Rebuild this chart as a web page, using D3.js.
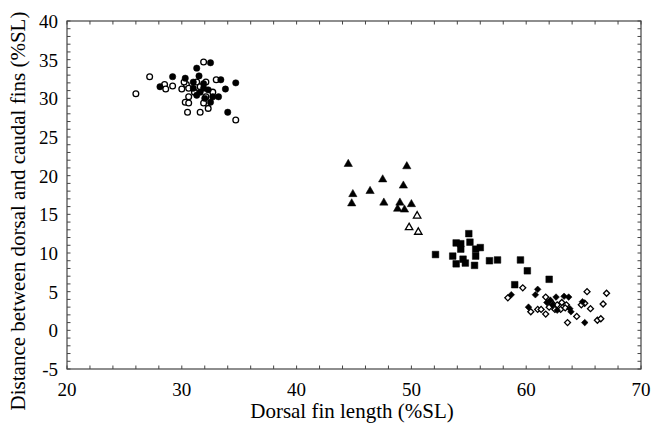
<!DOCTYPE html>
<html><head><meta charset="utf-8">
<script src="https://cdn.jsdelivr.net/npm/d3@7"></script>
<style>body{margin:0;background:#fff}svg{display:block}</style>
</head><body><svg id="c" width="652" height="423" style="font-family:'Liberation Serif',serif"></svg>
<script>
const xTicks = [20,30,40,50,60,70];
const yTicks = [-5,0,5,10,15,20,25,30,35,40];
const xTitle = "Dorsal fin length (%SL)";
const yTitle = "Distance between dorsal and caudal fins (%SL)";

const circOpen = [[26.0,30.6],[27.2,32.8],[28.5,31.8],[28.6,31.2],[29.2,31.6],[30.0,31.2],[30.4,31.8],[30.6,31.3],[30.3,29.5],[30.6,30.2],[30.6,29.4],[30.5,28.2],[31.6,28.2],[32.3,28.7],[31.9,29.4],[32.1,30.2],[33.0,32.4],[32.1,32.1],[31.9,34.7],[31.3,32.1],[31.6,31.5],[34.7,27.2],[31.1,30.8],[32.7,30.8],[30.2,32.1]];
const circFilled = [[28.1,31.5],[29.2,32.8],[31.3,33.9],[32.5,34.6],[30.3,32.6],[31.5,32.9],[31.0,32.1],[31.6,30.8],[32.3,31.1],[32.7,30.2],[33.2,30.2],[32.5,29.5],[33.4,32.4],[33.8,31.2],[34.7,32.0],[34.0,28.2],[31.0,31.3],[31.9,31.3],[31.3,30.4],[32.0,30.0],[31.9,31.9]];
const triFilled = [[44.5,21.5],[49.6,21.2],[47.5,19.5],[49.3,18.7],[44.9,17.6],[46.4,18.0],[44.8,16.4],[47.6,16.5],[49.0,16.5],[50.0,16.3],[48.8,15.7],[49.4,15.6]];
const triOpen = [[50.5,14.8],[49.8,13.3],[50.6,12.7]];
const squares = [[52.1,9.8],[55.0,12.5],[53.9,11.3],[54.3,11.2],[55.1,11.4],[54.3,10.5],[56.0,10.7],[55.6,10.5],[53.6,9.6],[55.6,9.6],[54.5,9.2],[53.9,8.6],[54.7,8.7],[55.5,8.4],[56.8,9.0],[57.5,9.1],[59.5,9.1],[60.1,7.7],[59.0,5.9],[62.0,6.6]];
const diaOpen = [[59.7,5.5],[58.4,4.2],[65.3,5.0],[67.0,4.8],[66.7,3.4],[61.7,4.3],[60.4,2.4],[61.0,2.7],[61.3,2.7],[61.7,2.1],[62.2,3.6],[62.7,3.3],[63.1,3.6],[63.5,3.3],[62.5,2.7],[63.0,2.7],[63.4,2.9],[63.6,1.0],[64.4,1.8],[65.1,3.5],[65.6,2.8],[66.2,1.3],[66.5,1.5],[64.8,3.3],[62.0,3.0]];
const diaFilled = [[58.7,4.6],[61.0,5.3],[60.8,4.6],[60.2,3.0],[62.1,3.9],[62.6,4.3],[63.3,4.4],[63.7,4.3],[62.3,3.3],[63.9,2.4],[63.8,2.8],[64.9,3.7],[65.1,1.0],[62.7,2.6],[61.8,3.6]];

const svg = d3.select("#c");
const L=67, R=641, T=21, B=369;
const x = d3.scaleLinear().domain([20,70]).range([L,R]);
const y = d3.scaleLinear().domain([-5,40]).range([B,T]);
const axCol = "#444";

svg.append("rect").attr("x",L).attr("y",T).attr("width",R-L).attr("height",B-T)
  .attr("fill","none").attr("stroke",axCol).attr("stroke-width",1.2);

const xMinor = d3.range(20,70.01,2);
const yMinor = d3.range(-5,40.01,1);
const tk = 3.5;
const g = svg.append("g").attr("stroke",axCol).attr("stroke-width",1);
xMinor.forEach(v=>{
  g.append("line").attr("x1",x(v)).attr("x2",x(v)).attr("y1",B).attr("y2",B-tk);
  g.append("line").attr("x1",x(v)).attr("x2",x(v)).attr("y1",T).attr("y2",T+tk);
});
yMinor.forEach(v=>{
  g.append("line").attr("y1",y(v)).attr("y2",y(v)).attr("x1",L).attr("x2",L+tk);
  g.append("line").attr("y1",y(v)).attr("y2",y(v)).attr("x1",R).attr("x2",R-tk);
});

svg.append("g").selectAll("text").data(xTicks).join("text")
  .attr("x",d=>x(d)).attr("y",B+27).attr("text-anchor","middle")
  .attr("font-size",19).text(d=>d);
svg.append("g").selectAll("text").data(yTicks).join("text")
  .attr("x",L-9).attr("y",d=>y(d)).attr("dy","0.36em").attr("text-anchor","end")
  .attr("font-size",19).text(d=>d);

svg.append("text").attr("x",352).attr("y",418).attr("text-anchor","middle")
  .attr("font-size",21).text(xTitle);
svg.append("text").attr("transform",`translate(25,211) rotate(-90)`)
  .attr("text-anchor","middle").attr("font-size",21).text(yTitle);

const pts = svg.append("g");
function draw(data, type, size, filled, rot){
  pts.selectAll(null).data(data).join("path")
    .attr("transform",d=>`translate(${x(d[0])},${y(d[1])})${rot?" rotate(45)":""}`)
    .attr("d",d3.symbol().type(type).size(size))
    .attr("fill",filled?"#000":"#fff").attr("stroke","#000").attr("stroke-width",filled?0.5:1.3);
}
draw(circOpen,d3.symbolCircle,26,false);
draw(circFilled,d3.symbolCircle,32,true);
draw(triOpen,d3.symbolTriangle,24,false);
draw(triFilled,d3.symbolTriangle,30,true);
draw(squares,d3.symbolSquare,44,true);
draw(diaOpen,d3.symbolSquare,18,false,true);
draw(diaFilled,d3.symbolSquare,22,true,true);
</script></body></html>
